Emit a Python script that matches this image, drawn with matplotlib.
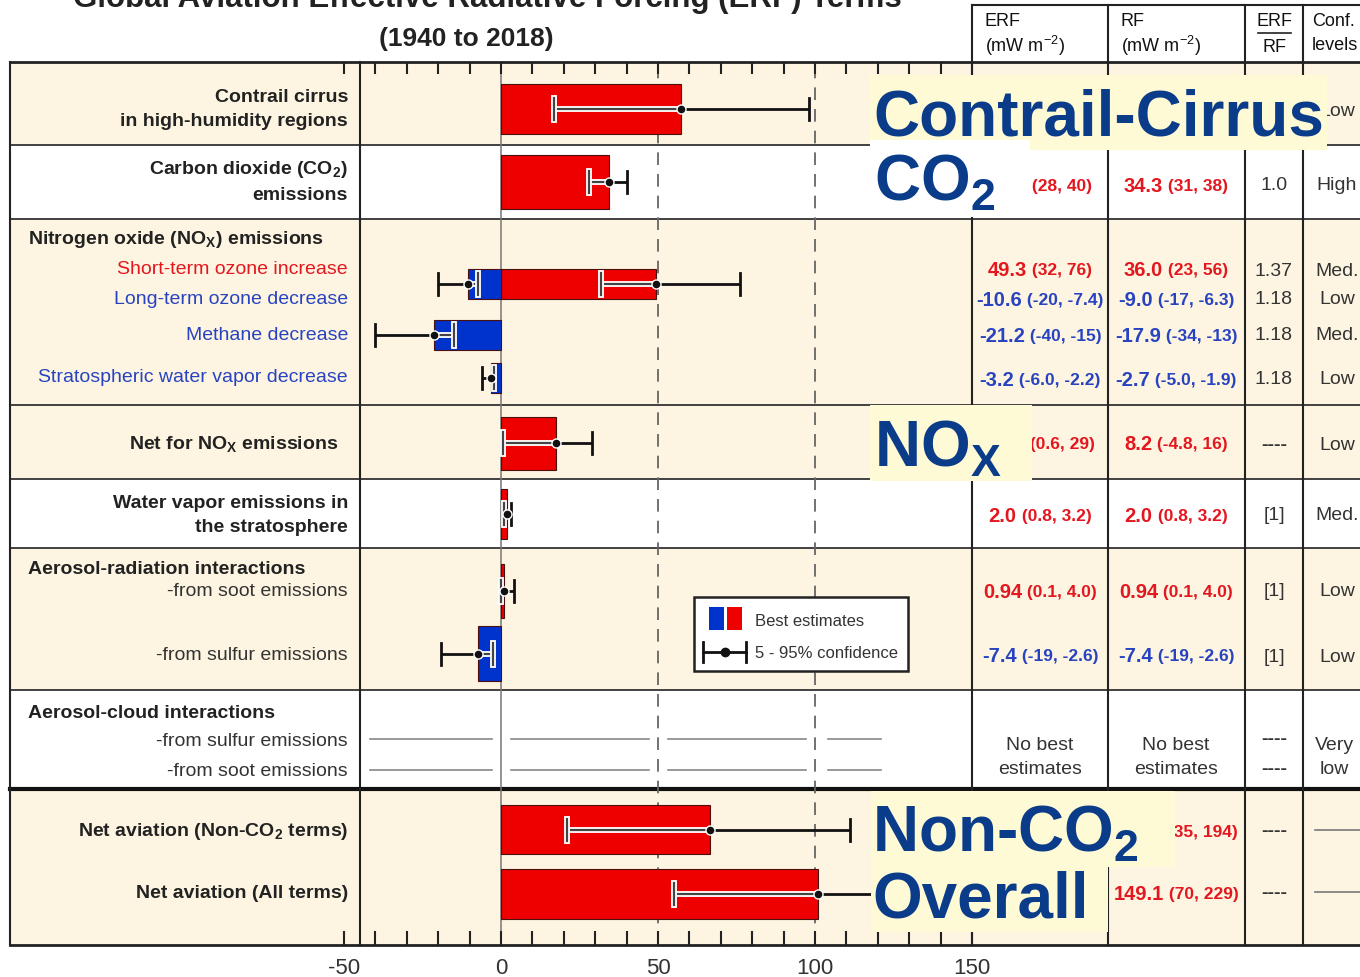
import matplotlib
matplotlib.use('Agg')
import matplotlib.pyplot as plt
import matplotlib.patheffects as pe
from matplotlib.patches import Rectangle

plt.rcParams['font.family'] = 'Liberation Sans'
plt.rcParams['mathtext.fontset'] = 'custom'
plt.rcParams['mathtext.rm'] = 'Liberation Sans'
plt.rcParams['mathtext.bf'] = 'Liberation Sans:bold'
plt.rcParams['mathtext.it'] = 'Liberation Sans:italic'
plt.rcParams['axes.unicode_minus'] = False

# ERF / RF terms (mW m-2), best estimate and 5-95% range
terms = ['Contrail cirrus', 'CO2', 'Short-term ozone', 'Long-term ozone', 'Methane',
         'Strat. water vapor decrease', 'Net NOx', 'Water vapor', 'Soot', 'Sulfur',
         'Net non-CO2', 'Net all']
erf_best = [57.4, 34.3, 49.3, -10.6, -21.2, -3.2, 17.5, 2.0, 0.94, -7.4, 66.6, 100.9]
erf_lo = [17, 28, 32, -20, -40, -6.0, 0.6, 0.8, 0.1, -19, 21, 55]
erf_hi = [98, 40, 76, -7.4, -15, -2.2, 29, 3.2, 4.0, -2.6, 111, 145]
rf_best = [111.4, 34.3, 36.0, -9.0, -17.9, -2.7, 8.2, 2.0, 0.94, -7.4, 114.8, 149.1]
rf_lo = [33, 31, 23, -17, -34, -5.0, -4.8, 0.8, 0.1, -19, 35, 70]
rf_hi = [189, 38, 56, -6.3, -13, -1.9, 16, 3.2, 4.0, -2.6, 194, 229]
ratio = ['0.42', '1.0', '1.37', '1.18', '1.18', '1.18', '----', '[1]', '[1]', '[1]', '----', '----']
conf = ['Low', 'High', 'Med.', 'Low', 'Med.', 'Low', 'Low', 'Med.', 'Low', 'Low', '', '']
x_ticks = [-50, 0, 50, 100, 150]

# layout (pixel rows)
bar_y = [109, 182, 284, 284, 335, 378, 443, 514, 591, 654, 830, 894]
bar_h = [50, 54, 30, 30, 30, 30, 53, 50, 54, 55, 49, 50]
text_y = [109, 184, 269, 298, 334, 378, 443, 514, 590, 655, 830, 892]
# table cells fully covered by the overlay captions
hidden = {(0, 'erf'), (0, 'rf'), (0, 'ratio'), (10, 'erf'), (11, 'erf')}

RED = '#ee0000'
BLUE = '#0033cc'
TRED = '#e3171f'
TBLUE = '#2843c0'
CREAM = '#fdf5e1'
BOXC = '#fffad6'
NAVY = '#0a3c8a'
DARK = '#333333'
TY = 2  # text vertical nudge

W, H = 1360, 977
fig = plt.figure(figsize=(W / 100, H / 100), dpi=100)

bg = fig.add_axes([0, 0, 1, 1], zorder=0)
bg.set_xlim(0, W)
bg.set_ylim(H, 0)
bg.axis('off')

bands = [(62, 145, CREAM), (145, 219, 'white'), (219, 405, CREAM), (405, 479, CREAM),
         (479, 548, 'white'), (548, 690, CREAM), (690, 789, 'white'), (789, 945, CREAM)]
for y0, y1, c in bands:
    bg.add_patch(Rectangle((10, y0), W - 10, y1 - y0, facecolor=c, edgecolor='none'))

for y in [145, 219, 405, 479, 548, 690]:
    bg.plot([10, W], [y, y], color='#333333', lw=1.3)
bg.plot([10, W], [62, 62], color='#222222', lw=2)
bg.plot([10, W], [789, 789], color='#111111', lw=3)
bg.plot([10, W], [945, 945], color='#222222', lw=2)
bg.plot([10, 10], [62, 945], color='#222222', lw=1.5)
bg.plot([360, 360], [62, 945], color='#222222', lw=1.5)
for x in [972, 1108, 1245, 1303]:
    bg.plot([x, x], [5, 945], color='#222222', lw=1.5)
bg.plot([972, W], [5, 5], color='#222222', lw=1.5)

# aerosol-cloud: no best estimates
for y in [739, 770]:
    for xa, xb in [(370, 492), (511, 649), (668, 806), (828, 881)]:
        bg.plot([xa, xb], [y, y], color='#888888', lw=1.2)

# titles
bg.text(487, 7, 'Global Aviation Effective Radiative Forcing (ERF) Terms', ha='center',
        va='baseline', fontsize=22.5, weight='bold', color='#222222')
bg.text(466, 37 + TY, '(1940 to 2018)', ha='center', va='center', fontsize=19, weight='bold',
        color='#222222')

# column headers
HK = dict(fontsize=13, color='#111111')
for x, lab in [(985, 'ERF'), (1121, 'RF')]:
    bg.text(x, 20 + TY, lab, ha='left', va='center', **HK)
    bg.text(x, 44 + TY, r'(mW m$^{-2}$)', ha='left', va='center', **HK)
bg.text(1274, 19 + TY, 'ERF', ha='center', va='center', **HK)
bg.plot([1258, 1291], [33, 33], color='#222222', lw=1.2)
bg.text(1274, 45 + TY, 'RF', ha='center', va='center', **HK)
bg.text(1312, 20 + TY, 'Conf.', ha='left', va='center', **HK)
bg.text(1312, 44 + TY, 'levels', ha='left', va='center', **HK)

# row labels
LX = 348
bold_labels = [('Contrail cirrus', 96), ('in high-humidity regions', 120),
               (r'Carbon dioxide (CO$_\mathbf{2}$)', 168), ('emissions', 193),
               ('Water vapor emissions in', 501), ('the stratosphere', 526),
               (r'Net aviation (Non-CO$_\mathbf{2}$ terms)', 830),
               ('Net aviation (All terms)', 892)]
for s, y in bold_labels:
    bg.text(LX, y + TY, s, ha='right', va='center', fontsize=14, weight='bold', color='#222222')
bg.text(338, 442 + TY, r'Net for NO$_\mathbf{X}$ emissions', ha='right', va='center',
        fontsize=14, weight='bold', color='#222222')
for s, y in [(r'Nitrogen oxide (NO$_\mathbf{X}$) emissions', 237),
             ('Aerosol-radiation interactions', 567), ('Aerosol-cloud interactions', 712)]:
    bg.text(28, y + TY, s, ha='left', va='center', fontsize=14, weight='bold', color='#222222')
sub_labels = [('Short-term ozone increase', 268, TRED), ('Long-term ozone decrease', 298, TBLUE),
              ('Methane decrease', 334, TBLUE), ('Stratospheric water vapor decrease', 376, TBLUE),
              ('-from soot emissions', 590, DARK), ('-from sulfur emissions', 653, DARK),
              ('-from sulfur emissions', 739, DARK), ('-from soot emissions', 769, DARK)]
for s, y, c in sub_labels:
    bg.text(LX, y + TY, s, ha='right', va='center', fontsize=14, color=c)

# table values
renderer = fig.canvas.get_renderer()


def num(v):
    if abs(v) < 1:
        return f'{v:.2f}'
    return f'{v:.1f}'


def rng(v):
    if abs(v) >= 10:
        return f'{v:.0f}'
    return f'{v:.1f}'


def pair(xc, y, best, lo, hi):
    col = TRED if best > 0 else TBLUE
    t1 = bg.text(0, y + TY, num(best), ha='left', va='center', fontsize=14.5,
                 weight='bold', color=col)
    t2 = bg.text(0, y + TY, f' ({rng(lo)}, {rng(hi)})', ha='left', va='center',
                 fontsize=12.5, weight='bold', color=col)
    w1 = t1.get_window_extent(renderer).width
    w2 = t2.get_window_extent(renderer).width
    x0 = xc - (w1 + w2) / 2
    t1.set_x(x0)
    t2.set_x(x0 + w1)


for i in range(len(terms)):
    y = text_y[i]
    if (i, 'erf') not in hidden:
        pair(1040, y, erf_best[i], erf_lo[i], erf_hi[i])
    if (i, 'rf') not in hidden:
        pair(1176, y, rf_best[i], rf_lo[i], rf_hi[i])
    r = ratio[i]
    if (i, 'ratio') not in hidden:
        bg.text(1274, y + TY, r, ha='center', va='center', fontsize=14, color=DARK,
                weight='bold' if r.startswith('-') else 'normal')
    if conf[i]:
        bg.text(1337, y + TY, conf[i], ha='center', va='center', fontsize=14, color=DARK)
    else:
        bg.plot([1315, W], [y, y], color='#777777', lw=1.2)

for xc in [1040, 1176]:
    bg.text(xc, 744 + TY, 'No best', ha='center', va='center', fontsize=14, color=DARK)
    bg.text(xc, 768 + TY, 'estimates', ha='center', va='center', fontsize=14, color=DARK)
bg.text(1274, 740, '----', ha='center', va='center', fontsize=14, weight='bold', color=DARK)
bg.text(1274, 769, '----', ha='center', va='center', fontsize=14, weight='bold', color=DARK)
bg.text(1334, 744 + TY, 'Very', ha='center', va='center', fontsize=14, color=DARK)
bg.text(1334, 768 + TY, 'low', ha='center', va='center', fontsize=14, color=DARK)

# bar chart
ax = fig.add_axes([344 / W, 1 - 945 / H, (972 - 344) / W, (945 - 62) / H], zorder=1)
ax.set_facecolor('none')
ax.set_xlim(-50, 150)
ax.set_ylim(945, 62)
for sp in ax.spines.values():
    sp.set_visible(False)
ax.set_xticks(x_ticks)
ax.set_xticks(range(-50, 151, 10), minor=True)
ax.set_xticklabels([str(t) for t in x_ticks])
ax.set_yticks([])
ax.tick_params(axis='x', which='both', direction='in', top=True, bottom=True,
               length=8.5, width=1.5, color='#222222')
ax.tick_params(axis='x', which='major', labelsize=16, labelcolor=DARK, pad=9)
for t in ax.xaxis.get_major_ticks() + ax.xaxis.get_minor_ticks():
    t.tick1line.set_markersize(10)

ax.axvline(0, color='#777777', lw=1.1, zorder=1)
for xv in [50, 100]:
    ax.axvline(xv, color='#666666', lw=1.3, ls=(0, (7, 5)), zorder=1)

cols = [RED if v > 0 else BLUE for v in erf_best]
ax.barh(bar_y, erf_best, height=bar_h, color=cols, edgecolor='#4a1010', lw=0.8, zorder=2)

halo = [pe.Stroke(linewidth=4.2, foreground='white'), pe.Normal()]
CAP = 11
for v, lo, hi, y in zip(erf_best, erf_lo, erf_hi, bar_y):
    a, b = sorted((0, v))
    ax.plot([lo, hi], [y, y], color='#111111', lw=2, zorder=3, solid_capstyle='butt')
    ilo, ihi = max(lo, a), min(hi, b)
    if ihi > ilo:
        ax.plot([ilo, ihi], [y, y], color='#444444', lw=1.6, zorder=4,
                solid_capstyle='butt', path_effects=halo)
    for c in (lo, hi):
        inside = a <= c <= b
        ax.plot([c, c], [y - CAP, y + CAP], color='#444444' if inside else '#111111',
                lw=1.6 if inside else 2, zorder=4, path_effects=halo if inside else None)
    ax.plot([v], [y], 'o', ms=6.5, mfc='#111111', mec='white', mew=1, zorder=5)

# overlay: legend and captions
ov = fig.add_axes([0, 0, 1, 1], zorder=2)
ov.set_facecolor('none')
ov.set_xlim(0, W)
ov.set_ylim(H, 0)
ov.axis('off')

ov.add_patch(Rectangle((694, 597), 214, 74, facecolor='white', edgecolor='#222222', lw=1.8))
ov.add_patch(Rectangle((709, 607), 15, 23, facecolor=BLUE, edgecolor='none'))
ov.add_patch(Rectangle((727, 607), 15, 23, facecolor=RED, edgecolor='none'))
ov.text(755, 619 + TY, 'Best estimates', ha='left', va='center', fontsize=12, color=DARK)
ov.plot([703, 746], [652, 652], color='#111111', lw=2)
ov.plot([703, 703], [642, 662], color='#111111', lw=2)
ov.plot([746, 746], [642, 662], color='#111111', lw=2)
ov.plot([725], [652], 'o', ms=6, color='#111111')
ov.text(755, 652 + TY, '5 - 95% confidence', ha='left', va='center', fontsize=12, color=DARK)

boxes = [(870, 75, 1327, 150, BOXC), (870, 140, 1030, 217, 'white'), (870, 405, 1032, 481, BOXC),
         (871, 791, 1175, 867, BOXC), (871, 867, 1108, 932, BOXC)]
for x0, y0, x1, y1, c in boxes:
    ov.add_patch(Rectangle((x0, y0), x1 - x0, y1 - y0, facecolor=c, edgecolor='none'))

big = dict(ha='left', va='baseline', fontsize=46, weight='bold', color=NAVY)
ov.text(873, 136, 'Contrail-Cirrus', **big)
ov.text(874, 201, r'CO$_\mathbf{2}$', **big)
ov.text(874, 467, r'NO$_\mathbf{X}$', **big)
ov.text(872, 852, r'Non-CO$_\mathbf{2}$', **big)
ov.text(872, 917, 'Overall', **big)

fig.savefig('out.png', dpi=100)
